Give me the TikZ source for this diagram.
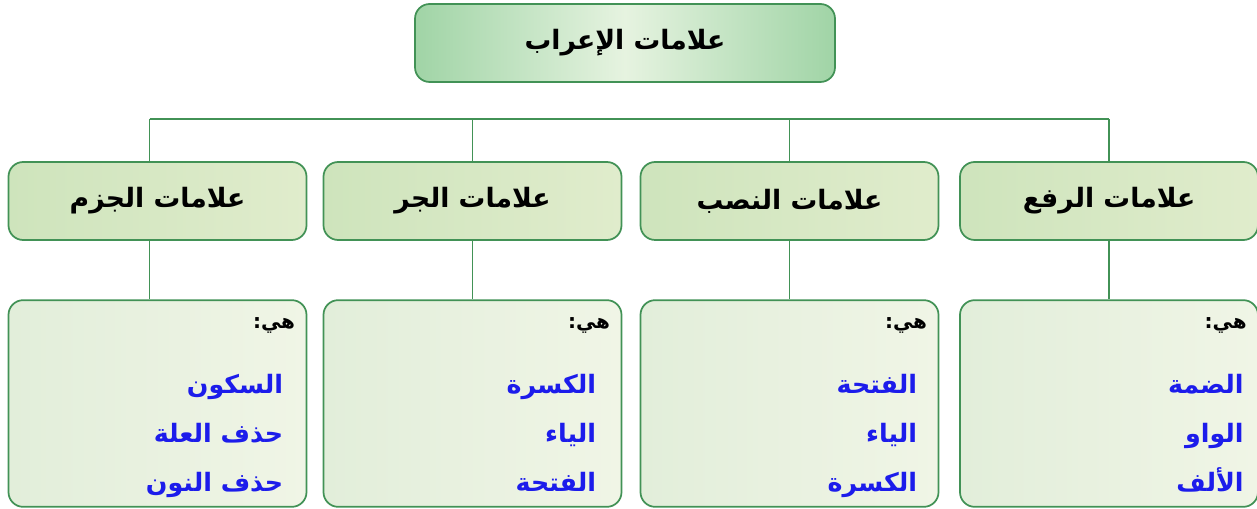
\documentclass[tikz,border=0pt]{standalone}
\usepackage{fontspec}
\usepackage{tikz}
\usetikzlibrary{calc}
\TeXXeTstate=1
\newfontfamily\arabicfont[Script=Arabic]{DejaVu Sans}
\definecolor{edgegreen}{RGB}{66,146,86}
\definecolor{rootdark}{RGB}{160,212,166}
\definecolor{rootlight}{RGB}{230,243,224}
\definecolor{headleft}{RGB}{206,228,188}
\definecolor{headright}{RGB}{224,236,204}
\definecolor{listleft}{RGB}{226,238,218}
\definecolor{listright}{RGB}{240,245,230}
\definecolor{itemblue}{RGB}{28,28,235}
\def\ar#1{{\arabicfont\bfseries\beginR #1\endR}}
\tikzset{
  rootbox/.style={draw=edgegreen, line width=1.3pt, rounded corners=11pt,
    left color=rootdark, right color=rootdark, middle color=rootlight,
    minimum width=315pt, minimum height=58.5pt, font=\fontsize{20}{24}\selectfont},
  headbox/.style={draw=edgegreen, line width=1.3pt, rounded corners=11pt,
    left color=headleft, right color=headright,
    minimum width=223.5pt, minimum height=58.5pt, font=\fontsize{20}{24}\selectfont},
  listbox/.style={draw=edgegreen, line width=1.3pt, rounded corners=11pt,
    left color=listleft, right color=listright,
    minimum width=223.5pt, minimum height=155pt},
  link/.style={edgegreen, line width=1.4pt},
  hilabel/.style={anchor=north east, inner sep=0pt, font=\fontsize{15}{18}\selectfont},
  itemlist/.style={anchor=north east, inner sep=0pt, align=right, text=itemblue,
    font=\fontsize{19}{36.5}\selectfont}
}
\begin{document}
\begin{tikzpicture}[x=0.75pt,y=-0.75pt]
			%%%%% START %%%%%
			\useasboundingbox (0,0) rectangle (1257,509);
			
			\node[rootbox] (root) at (625, 43) {\ar{علامات الإعراب}};
			
			\node[headbox] (hjazm) at (157.5, 201) {\raisebox{-3pt}{\ar{علامات الجزم}}};
			\node[headbox] (hjarr) at (472.5, 201) {\raisebox{-3pt}{\ar{علامات الجر}}};
			\node[headbox] (hnasb) at (789.5, 201) {\raisebox{-3pt}{\ar{علامات النصب}}};
			\node[headbox] (hrafa) at (1109, 201) {\raisebox{-3pt}{\ar{علامات الرفع}}};
			
			\node[listbox] (ljazm) at (157.5, 403.5) {};
			\node[listbox] (ljarr) at (472.5, 403.5) {};
			\node[listbox] (lnasb) at (789.5, 403.5) {};
			\node[listbox] (lrafa) at (1109, 403.5) {};
			
			\coordinate (bus) at (625, 119);
			\draw[link] ([xshift=-6]hjazm.north |- bus) -- (hrafa.north |- bus);
			\draw[link] ([xshift=-6]hjazm.north |- bus) -- ([xshift=-6]hjazm.north);
			\draw[link] (hjarr.north |- bus) -- (hjarr.north);
			\draw[link] (hnasb.north |- bus) -- (hnasb.north);
			\draw[link] (hrafa.north |- bus) -- (hrafa.north);
			
			\draw[link] ([xshift=-6]hjazm.south) -- ([xshift=-6]ljazm.north);
			\draw[link] (hjarr.south) -- (ljarr.north);
			\draw[link] (hnasb.south) -- (lnasb.north);
			\draw[link] (hrafa.south) -- (lrafa.north);
			
			\node[hilabel] (kjazm) at ($(ljazm.north east)+(-12,18)$) {\ar{هي:}};
			\node[hilabel] (kjarr) at ($(ljarr.north east)+(-12,18)$) {\ar{هي:}};
			\node[hilabel] (knasb) at ($(lnasb.north east)+(-12,18)$) {\ar{هي:}};
			\node[hilabel] (krafa) at ($(lrafa.north east)+(-12,18)$) {\ar{هي:}};
			
			\node[itemlist] (ijazm) at ($(ljazm.north east)+(-24,75)$) {\ar{السكون}\\ \ar{حذف العلة}\\ \ar{حذف النون}};
			\node[itemlist] (ijarr) at ($(ljarr.north east)+(-26,75)$) {\ar{الكسرة}\\ \ar{الياء}\\ \ar{الفتحة}};
			\node[itemlist] (inasb) at ($(lnasb.north east)+(-22,75)$) {\ar{الفتحة}\\ \ar{الياء}\\ \ar{الكسرة}};
			\node[itemlist] (irafa) at ($(lrafa.north east)+(-15,75)$) {\ar{الضمة}\\ \ar{الواو}\\ \ar{الألف}};
			
			%%%%% END %%%%%
		\end{tikzpicture}
\end{document}
